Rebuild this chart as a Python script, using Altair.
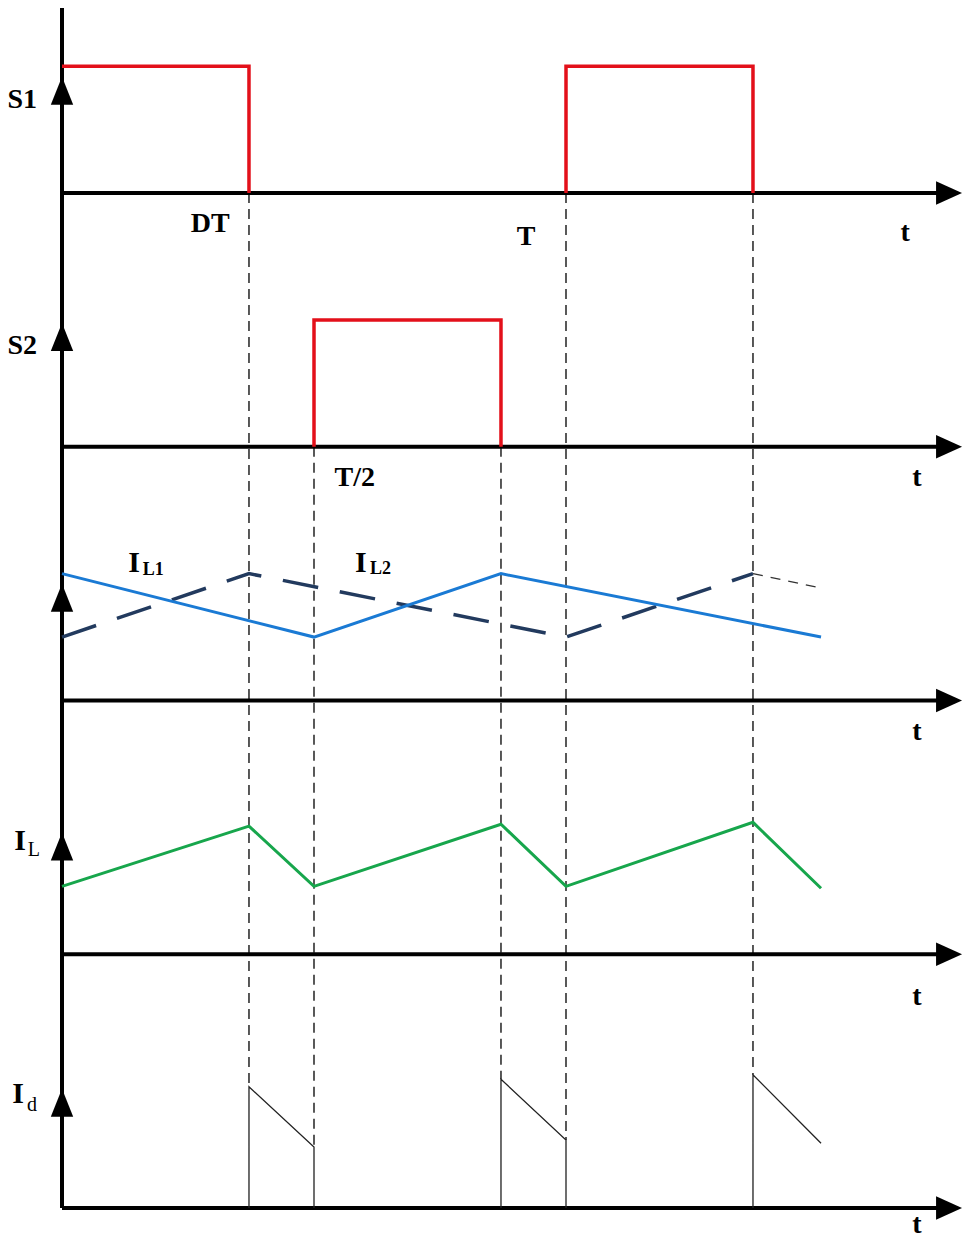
import altair as alt
import pandas as pd

# ---------------- data (time in units of the period T, levels in arbitrary units) ----------------
D = 0.371  # duty ratio

# S1 gate pulses
s1_t = [0.0, 0.371, 0.371, 1.0, 1.0, 1.371, 1.371]
s1_v = [2.0, 2.0, 0.0, 0.0, 2.0, 2.0, 0.0]
s1_seg = [0, 0, 0, 1, 1, 1, 1]

# S2 gate pulse
s2_t = [0.5, 0.5, 0.871, 0.871]
s2_v = [0.0, 2.0, 2.0, 0.0]

# phase currents IL1 (solid) and IL2 (dashed)
il1_t = [0.0, 0.5, 0.871, 1.506]
il1_v = [2.0, 1.0, 2.0, 1.0]
il2_t = [0.0, 0.371, 1.0, 1.371]
il2_v = [1.0, 2.0, 1.0, 2.0]
il2_tail_t = [1.371, 1.502]
il2_tail_v = [2.0, 1.78]

# total inductor current IL
il_t = [0.0, 0.371, 0.5, 0.871, 1.0, 1.371, 1.506]
il_v = [1.07, 2.02, 1.07, 2.05, 1.07, 2.08, 1.04]

# diode current Id
id_t = [0.371, 0.371, 0.5, 0.5, 0.871, 0.871, 1.0, 1.0, 1.371, 1.371, 1.506]
id_v = [0.0, 1.91, 0.96, 0.0, 0.0, 2.03, 1.07, 0.0, 0.0, 2.10, 1.02]
id_seg = [0, 0, 0, 0, 1, 1, 1, 1, 2, 2, 2]

# dashed guide lines: time, row where they start (its baseline), Id level where they stop
guide_t = [0.371, 0.5, 0.871, 1.0, 1.371]
guide_row = [0, 1, 1, 0, 0]
guide_end = [1.91, 0.96, 2.03, 1.07, 2.10]

rows = ["S1", "S2", "IL12", "IL", "Id"]
arrow_lvl = [1.61, 1.73, 1.62, 1.70, 1.66]

# labels
big_labels = ["S1", "S2", "DT", "T", "T/2", "t", "t", "t", "t", "t"]
big_t = [-0.079, -0.079, 0.294, 0.921, 0.581, 1.673, 1.696, 1.696, 1.696, 1.696]
big_row = [0, 1, 0, 0, 1, 0, 1, 2, 3, 4]
big_lvl = [1.47, 1.59, -0.49, -0.69, -0.50, -0.63, -0.50, -0.50, -0.68, -0.27]

i_labels = ["I", "I"]
i_t = [0.143, 0.593]
i_row = [2, 2]
i_lvl = [2.17, 2.17]
sub_labels = ["L1", "L2"]
sub_t = [0.181, 0.632]
sub_lvl = [2.05, 2.07]

left_i_t = [-0.0833, -0.0873]
left_i_row = [3, 4]
left_i_lvl = [1.78, 1.80]
left_sub = ["L", "d"]
left_sub_t = [-0.0556, -0.0595]
left_sub_lvl = [1.64, 1.62]

# ---------------- layout helpers ----------------
UNIT = 63.4375          # pixels per level unit
ROW_GAP = 4             # level units between baselines
T_PX = 504.0            # pixels per period
W, H = 955, 1232
XMIN = -54 / T_PX
XMAX = (W - 54) / T_PX
YMAX = 1200 / UNIT
YMIN = YMAX - H / UNIT


def base(r):
    return (len(rows) - 1 - r) * ROW_GAP


x_enc = alt.X("t:Q", scale=alt.Scale(domain=[XMIN, XMAX], nice=False, zero=False), axis=None)
y_scale = alt.Scale(domain=[YMIN, YMAX], nice=False, zero=False)
y_enc = alt.Y("y:Q", scale=y_scale, axis=None)


def series(ts, vs, row, seg=None):
    return pd.DataFrame({
        "t": ts,
        "y": [base(row) + v for v in vs],
        "seg": seg if seg is not None else [0] * len(ts),
        "o": list(range(len(ts))),
    })


def line_layer(df, color, width, dash=None):
    kw = dict(color=color, strokeWidth=width, strokeJoin="miter")
    if dash:
        kw["strokeDash"] = dash
    return alt.Chart(df).mark_line(**kw).encode(
        x=x_enc, y=y_enc, detail="seg:N", order="o:Q")


# dashed guides
guides = pd.DataFrame({
    "t": guide_t,
    "y": [base(r) for r in guide_row],
    "y2": [base(4) + v for v in guide_end],
})
guide_layer = alt.Chart(guides).mark_rule(color="black", strokeWidth=1.3, strokeDash=[10, 6]).encode(
    x=x_enc, y=y_enc, y2="y2:Q")

# axes
haxis = pd.DataFrame({"t": [0.0] * 5, "t2": [1.752] * 5, "y": [base(r) for r in range(5)]})
haxis_layer = alt.Chart(haxis).mark_rule(color="black", strokeWidth=4).encode(
    x=x_enc, x2="t2:Q", y=y_enc)
vaxis = pd.DataFrame({"t": [0.0], "y": [base(4)], "y2": [YMAX]})
vaxis_layer = alt.Chart(vaxis).mark_rule(color="black", strokeWidth=4).encode(
    x=x_enc, y=y_enc, y2="y2:Q")

up_arrows = pd.DataFrame({"t": [0.0] * 5, "y": [base(r) + a for r, a in enumerate(arrow_lvl)]})
up_layer = alt.Chart(up_arrows).mark_point(
    shape="M-0.8,1L0,-1L0.8,1Z", size=784, filled=True, color="black", opacity=1).encode(x=x_enc, y=y_enc)
right_arrows = pd.DataFrame({"t": [1.760] * 5, "y": [base(r) for r in range(5)]})
right_layer = alt.Chart(right_arrows).mark_point(
    shape="M-1,-0.9L1,0L-1,0.9Z", size=676, filled=True, color="black", opacity=1).encode(x=x_enc, y=y_enc)

RED = "#e3101a"
BLUE = "#1a7ad4"
NAVY = "#223a5e"
GREEN = "#17a64c"

s1_layer = line_layer(series(s1_t, s1_v, 0, s1_seg), RED, 3.5)
s2_layer = line_layer(series(s2_t, s2_v, 1), RED, 3.5)
il2_layer = line_layer(series(il2_t, il2_v, 2), NAVY, 3.5, [36, 22])
il2_tail_layer = line_layer(series(il2_tail_t, il2_tail_v, 2), "#333333", 1.3, [10, 8])
il1_layer = line_layer(series(il1_t, il1_v, 2), BLUE, 3)
il_layer = line_layer(series(il_t, il_v, 3), GREEN, 3)
id_layer = line_layer(series(id_t, id_v, 4, id_seg), "#222222", 1.3)

FONT = "Liberation Serif"
big_df = pd.DataFrame({"t": big_t, "y": [base(r) + v for r, v in zip(big_row, big_lvl)], "txt": big_labels})
big_layer = alt.Chart(big_df).mark_text(font=FONT, fontSize=28, fontWeight="bold", color="black",
                                        align="center", baseline="middle").encode(x=x_enc, y=y_enc, text="txt:N")

i_df = pd.DataFrame({"t": i_t, "y": [base(r) + v for r, v in zip(i_row, i_lvl)], "txt": i_labels})
i_layer = alt.Chart(i_df).mark_text(font=FONT, fontSize=30, fontWeight="bold", color="black",
                                    align="center", baseline="middle").encode(x=x_enc, y=y_enc, text="txt:N")
sub_df = pd.DataFrame({"t": sub_t, "y": [base(r) + v for r, v in zip(i_row, sub_lvl)], "txt": sub_labels})
sub_layer = alt.Chart(sub_df).mark_text(font=FONT, fontSize=18, fontWeight="bold", color="black",
                                        align="center", baseline="middle").encode(x=x_enc, y=y_enc, text="txt:N")

li_df = pd.DataFrame({"t": left_i_t, "y": [base(r) + v for r, v in zip(left_i_row, left_i_lvl)], "txt": ["I", "I"]})
li_layer = alt.Chart(li_df).mark_text(font=FONT, fontSize=30, fontWeight="bold", color="black",
                                      align="center", baseline="middle").encode(x=x_enc, y=y_enc, text="txt:N")
ls_df = pd.DataFrame({"t": left_sub_t, "y": [base(r) + v for r, v in zip(left_i_row, left_sub_lvl)], "txt": left_sub})
ls_layer = alt.Chart(ls_df).mark_text(font=FONT, fontSize=20, color="black",
                                      align="center", baseline="middle").encode(x=x_enc, y=y_enc, text="txt:N")

chart = alt.layer(
    guide_layer, haxis_layer, vaxis_layer, up_layer, right_layer,
    il2_layer, il2_tail_layer, il1_layer, il_layer, id_layer, s1_layer, s2_layer,
    big_layer, i_layer, sub_layer, li_layer, ls_layer,
).properties(
    width=W, height=H, padding=0,
    autosize=alt.AutoSizeParams(type="none"),
).configure_view(stroke=None)

chart.save("out.html", embed_options={"renderer": "svg", "actions": False})
